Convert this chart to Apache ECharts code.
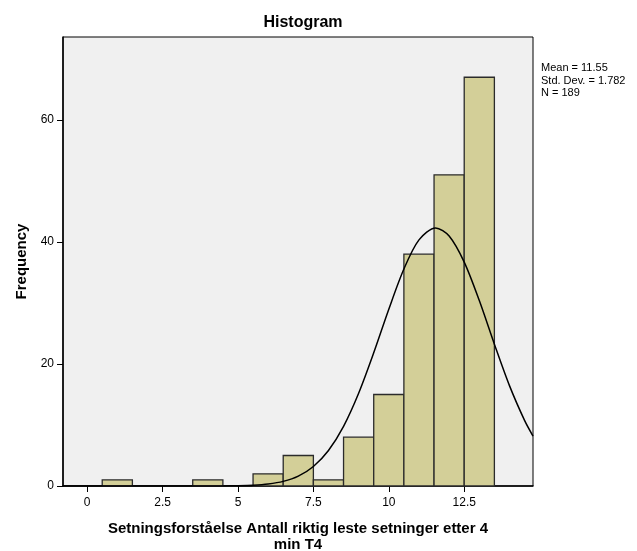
<!DOCTYPE html>
<html>
<head>
<meta charset="utf-8">
<script src="https://cdn.jsdelivr.net/npm/echarts@6/dist/echarts.min.js"></script>
<style>html,body{margin:0;padding:0;background:#fff;}#c{width:637px;height:551px;}</style>
</head>
<body>
<div id="c"></div>
<script>
// Histogram bins (centre value) and frequencies
const binCenters = [1, 4, 6, 7, 8, 9, 10, 11, 12, 13];
const frequencies = [1, 1, 2, 5, 1, 8, 15, 38, 51, 67];
const binWidth = 1;
// Normal curve, points
const curveX = [-0.8, 3, 4, 4.5, 5, 5.5, 6, 6.5, 7, 7.5, 8, 8.5, 9, 9.5, 10, 10.5, 11, 11.55, 12, 12.5, 13, 13.5, 14, 14.5, 14.78];
const curveY = [0, 0, 0.005, 0.02, 0.05, 0.13, 0.33, 0.76, 1.62, 3.2, 5.82, 9.78, 15.2, 21.83, 28.98, 35.57, 40.34, 42.31, 40.98, 36.7, 30.39, 23.25, 16.45, 10.75, 8.18];
const xTicks = [0, 2.5, 5, 7.5, 10, 12.5];
const yTicks = [0, 20, 40, 60];
const statsLines = ['Mean = 11.55', 'Std. Dev. = 1.782', 'N = 189'];

const chart = echarts.init(document.getElementById('c'), null, {renderer: 'canvas'});
const font = 'Liberation Sans, Arial, sans-serif';
const barData = binCenters.map((c, i) => [c - binWidth / 2, c + binWidth / 2, frequencies[i]]);
const curveData = curveX.map((x, i) => [x, curveY[i]]);

chart.setOption({
  animation: false,
  backgroundColor: '#ffffff',
  title: {
    text: 'Histogram', left: 298, top: 10, textAlign: 'center',
    textStyle: {fontFamily: font, fontSize: 16, fontWeight: 'bold', color: '#000'}
  },
  grid: {
    left: 63, top: 37, right: 104, bottom: 65,
    outerBoundsMode: 'none', containLabel: false,
    show: true, backgroundColor: '#f0f0f0', borderColor: '#000', borderWidth: 1
  },
  xAxis: {
    type: 'value', min: -0.8, max: 14.78,
    name: 'Setningsforståelse Antall riktig leste setninger etter 4\nmin T4',
    nameLocation: 'middle', nameGap: 35,
    nameTextStyle: {fontFamily: font, fontSize: 15, fontWeight: 'bold', color: '#000', lineHeight: 16},
    axisLine: {show: true, onZero: false, lineStyle: {color: '#000', width: 1.5}},
    axisTick: {show: true, length: 6, customValues: xTicks, lineStyle: {color: '#000', width: 1}},
    axisLabel: {customValues: xTicks, fontFamily: font, fontSize: 12, color: '#000', margin: 11,
      formatter: v => String(v)},
    splitLine: {show: false}
  },
  yAxis: {
    type: 'value', min: 0, max: 73.6, interval: 20,
    name: 'Frequency', nameLocation: 'middle', nameGap: 25, nameRotate: 90,
    nameTextStyle: {fontFamily: font, fontSize: 15, fontWeight: 'bold', color: '#000'},
    axisLine: {show: true, onZero: false, lineStyle: {color: '#000', width: 1.5}},
    axisTick: {show: true, length: 6, customValues: yTicks, lineStyle: {color: '#000', width: 1}},
    axisLabel: {customValues: yTicks, fontFamily: font, fontSize: 12, color: '#000', margin: 9},
    splitLine: {show: false}
  },
  graphic: [{
    type: 'text', left: 541, top: 62,
    style: {text: statsLines.join('\n'), font: '11px ' + font, fill: '#000', lineHeight: 12.5}
  }],
  series: [{
    type: 'custom',
    data: barData,
    encode: {x: [0, 1], y: 2},
    renderItem: function (params, api) {
      const p0 = api.coord([api.value(0), api.value(2)]);
      const p1 = api.coord([api.value(1), 0]);
      return {
        type: 'rect',
        shape: {x: p0[0], y: p0[1], width: p1[0] - p0[0], height: p1[1] - p0[1]},
        style: {fill: '#d3cf98', stroke: '#2b2b2b', lineWidth: 1.3}
      };
    },
    z: 2
  }, {
    type: 'line',
    data: curveData,
    smooth: 0.3,
    showSymbol: false,
    lineStyle: {color: '#000', width: 1.5},
    z: 3
  }]
});
</script>
</body>
</html>
